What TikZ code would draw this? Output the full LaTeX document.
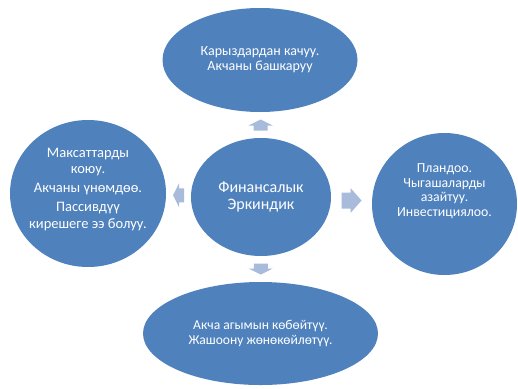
\documentclass[tikz,border=0pt]{standalone}
\usepackage{fontspec}
\setmainfont{Carlito}
\usetikzlibrary{shapes.geometric,calc}
\definecolor{bubble-blue}{RGB}{79,129,189}
\definecolor{pointer-blue}{RGB}{168,187,218}

\begin{document}
\begin{tikzpicture}[x=1pt,y=-1pt,
  bubble/.style={ellipse, fill=bubble-blue, text=white, align=center, inner sep=0pt},
  bubble text/.style={text=white, align=center, inner sep=0pt},
  short pointer/.pic={\fill[pointer-blue] (-5.5,-7) -- (-0.5,-7) -- (-0.5,-12) -- (5.5,0) -- (-0.5,12) -- (-0.5,7) -- (-5.5,7) -- cycle;},
  long pointer/.pic={\fill[pointer-blue] (-10,-8) -- (-1,-8) -- (-1,-12.5) -- (10,0) -- (-1,12.5) -- (-1,8) -- (-10,8) -- cycle;}]
\useasboundingbox (0,0) rectangle (518,388);
\node[bubble, minimum width=140, minimum height=118, font={\fontsize{16}{17}\selectfont}]
  (hub) at (261,197) {Финансалык\\Эркиндик};
\node[bubble, minimum width=195, minimum height=104, font={\fontsize{14}{15}\selectfont}]
  (debt-free) at (260,60) {Карыздардан качуу.\\Акчаны башкаруу};
\node[bubble, minimum width=156, minimum height=147] (goals) at (88,193.5) {};
\node[bubble text, font={\fontsize{14.5}{16.5}\selectfont}] (goals-text) at ($(goals)+(0,-4)$)
  {Максаттарды\\коюу.\\[2.5pt]Акчаны үнөмдөө.\\[2.5pt]Пассивдүү\\кирешеге ээ болуу.};
\node[bubble, minimum width=145, minimum height=142] (planning) at (444.5,204) {};
\node[bubble text, font={\fontsize{13.8}{14.5}\selectfont}] (planning-text) at ($(planning)+(0,-13)$)
  {Пландоо.\\Чыгашаларды\\азайтуу.\\Инвестициялоо.};
\node[bubble, minimum width=235, minimum height=103, font={\fontsize{13.6}{14.5}\selectfont}]
  (cash-flow) at (260.5,333.5) {Акча агымын көбөйтүү.\\Жашоону жөнөкөйлөтүү.};
\path ($(hub.north)!0.5!(debt-free.south)$) coordinate (to-top) pic[rotate=90] {short pointer};
\path ($(hub.west)!0.5!(goals.east)$) coordinate (to-left) pic[rotate=180] {short pointer};
\path ($(hub.east)!0.5!(planning.west)$) coordinate (to-right) pic {long pointer};
\path ($(hub.south)!0.5!(cash-flow.north)$) coordinate (to-bottom) pic[rotate=-90] {short pointer};
\end{tikzpicture}
\end{document}
